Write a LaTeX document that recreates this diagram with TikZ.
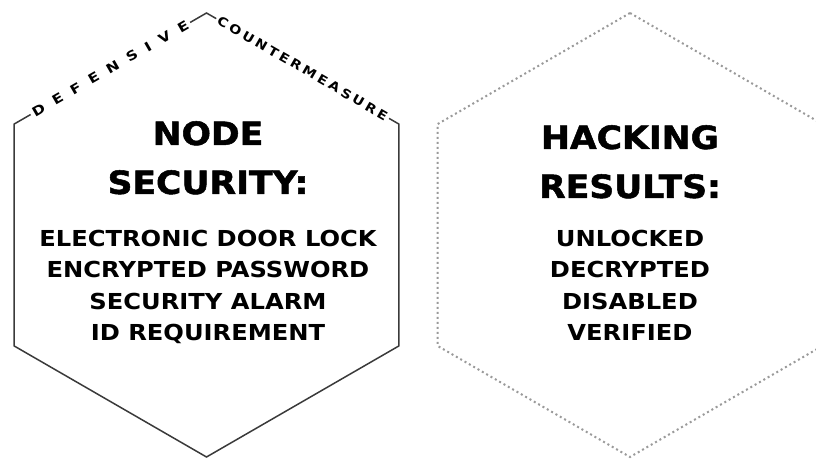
\documentclass[tikz,border=0pt]{standalone}
\usepackage{fontspec}
\usetikzlibrary{calc}
\newfontfamily\hexfont[FakeStretch=1.1]{DejaVu Sans Bold}
\newfontfamily\hexbold[FakeStretch=1.08,FakeBold=1.6]{DejaVu Sans Bold}
\newfontfamily\rimwide[FakeStretch=1.2,LetterSpace=78]{DejaVu Sans Bold}
\newfontfamily\rimtight[FakeStretch=1.15,LetterSpace=24]{DejaVu Sans Bold}
\definecolor{k1}{HTML}{3A3A3A}
\definecolor{d1}{HTML}{9A9A9A}
\tikzstyle{solid hex}=[k1,line width=1.5pt,line join=miter]
\tikzstyle{dotted hex}=[d1,line width=2pt,dash pattern=on 2pt off 3pt]
\tikzstyle{title}=[anchor=north,inner sep=0,align=center,font=\hexbold\fontsize{32}{49}\selectfont]
\tikzstyle{items}=[anchor=north,inner sep=0,align=center,font=\hexfont\fontsize{22}{31.3}\selectfont]
\tikzstyle{rim text}=[midway,sloped,fill=white,inner sep=2.5pt,text=black]
\tikzstyle{rim wide}=[rim text,font=\rimwide\fontsize{13}{15}\selectfont]
\tikzstyle{rim tight}=[rim text,font=\rimtight\fontsize{12.5}{15}\selectfont]

\begin{document}
\begin{tikzpicture}[x=1pt,y=1pt]
  \useasboundingbox (0,0) rectangle (816,458);
  \clip (0,0) rectangle (816,458);
  \coordinate (lc) at (206.5,223);
  \coordinate (rc) at (630,223);
  \foreach \i in {1,...,6}{
    \coordinate (L\i) at ($(lc)+(30+60*\i:222)$);
    \coordinate (R\i) at ($(rc)+(30+60*\i:222)$);
  }
  \draw[solid hex] (L2) -- (L1) node[rim wide] (def) {DEFENSIVE}
                   -- (L6) node[rim tight] (cm) {COUNTERMEASURE}
                   -- (L5) -- (L4) -- (L3) -- cycle;
  \draw[dotted hex] (R1) -- (R2) -- (R3) -- (R4) -- (R5) -- (R6) -- cycle;
  \node[title] (nodesec) at (208,337) {NODE\\SECURITY:};
  \node[items] (defences) at (208,228) {ELECTRONIC DOOR LOCK\\ENCRYPTED PASSWORD\\SECURITY ALARM\\ID REQUIREMENT};
  \node[title] (hackres) at (630,333) {HACKING\\RESULTS:};
  \node[items] (outcomes) at (630,228) {UNLOCKED\\DECRYPTED\\DISABLED\\VERIFIED};
\end{tikzpicture}
\end{document}
